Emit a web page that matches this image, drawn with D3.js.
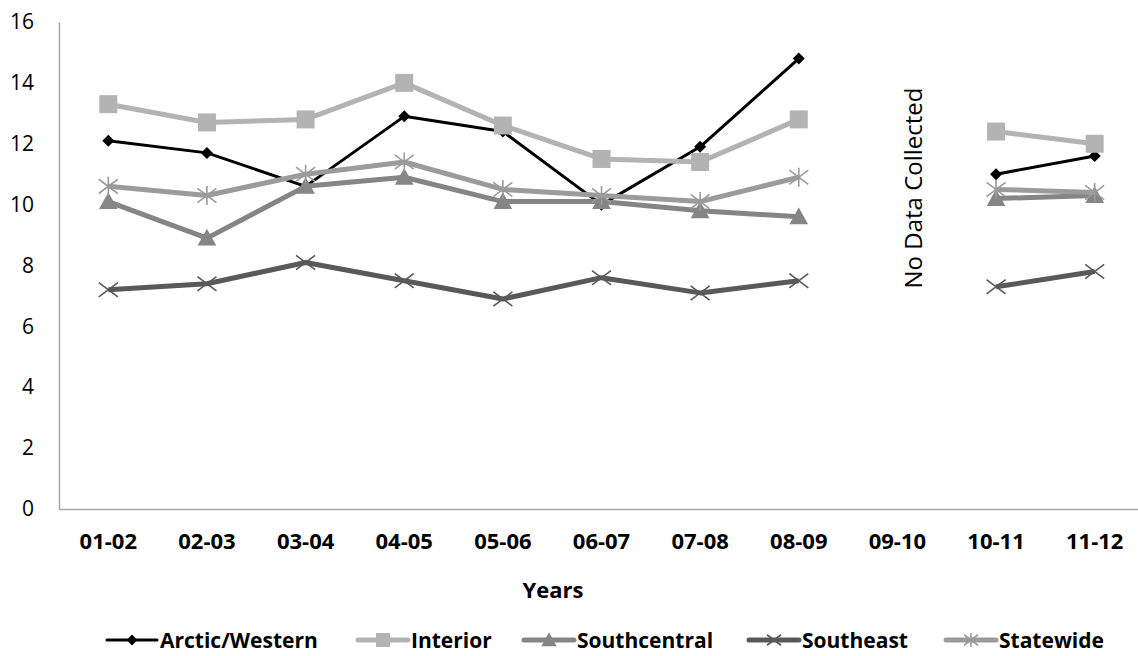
<!DOCTYPE html>
<html><head><meta charset="utf-8">
<script src="https://cdn.jsdelivr.net/npm/d3@7"></script>
<style>html,body{margin:0;padding:0;background:#fff;overflow:hidden}svg{display:block;font-family:"Open Sans",sans-serif}</style>
</head><body>
<svg id="c" width="1138" height="656"></svg>
<script>
const years = ["01-02","02-03","03-04","04-05","05-06","06-07","07-08","08-09","09-10","10-11","11-12"];
const arctic      = [12.1,11.7,10.6,12.9,12.4,10.0,11.9,14.8,null,11.0,11.6];
const interior    = [13.3,12.7,12.8,14.0,12.6,11.5,11.4,12.8,null,12.4,12.0];
const southcentral= [10.1,8.9,10.6,10.9,10.1,10.1,9.8,9.6,null,10.2,10.3];
const southeast   = [7.2,7.4,8.1,7.5,6.9,7.6,7.1,7.5,null,7.3,7.8];
const statewide   = [10.6,10.3,11.0,11.4,10.5,10.3,10.1,10.9,null,10.5,10.4];
const yTicks = [0,2,4,6,8,10,12,14,16];
const seriesNames = ["Arctic/Western","Interior","Southcentral","Southeast","Statewide"];

const series = [
  {name:seriesNames[0], values:arctic, color:"#000000", width:3, marker:"diamond"},
  {name:seriesNames[1], values:interior, color:"#b3b3b3", width:5, marker:"square"},
  {name:seriesNames[2], values:southcentral, color:"#858585", width:5, marker:"triangle"},
  {name:seriesNames[3], values:southeast, color:"#595959", width:5, marker:"x"},
  {name:seriesNames[4], values:statewide, color:"#9b9b9b", width:5, marker:"asterisk"}
];

const svg = d3.select("#c");
const L = 59, R = 1144, T = 22, B = 509;
const x = d3.scaleBand().domain(years).range([L, R]);
const y = d3.scaleLinear().domain([0,16]).range([B, T]);

const yAxis = svg.append("g").attr("transform",`translate(${L},0)`)
  .call(d3.axisLeft(y).tickValues(yTicks).tickSize(0).tickPadding(25));
yAxis.select(".domain").attr("stroke","#a6a6a6").attr("stroke-width",1.5);
yAxis.selectAll("text").attr("font-size",21).attr("fill","#000").attr("font-family","'Open Sans', sans-serif");

const xAxis = svg.append("g").attr("transform",`translate(0,${B})`)
  .call(d3.axisBottom(x).tickSize(0).tickPadding(24));
xAxis.select(".domain").attr("stroke","#a6a6a6").attr("stroke-width",1.5);
xAxis.selectAll("text").attr("font-size",22).attr("font-weight","bold").attr("fill","#000").attr("font-family","'Open Sans', sans-serif");

svg.append("text").attr("x",553).attr("y",598).attr("text-anchor","middle")
  .attr("font-size",22).attr("font-weight","bold").text("Years");

svg.append("text").attr("transform",`translate(${x("09-10")+x.bandwidth()/2+25},188) rotate(-90)`)
  .attr("text-anchor","middle").attr("font-size",24).text("No Data Collected");

function drawMarker(g, type, color, cx, cy, s) {
  if (type==="diamond") {
    const r = s*0.5;
    g.append("path").attr("d",`M${cx},${cy-r}L${cx+r},${cy}L${cx},${cy+r}L${cx-r},${cy}Z`).attr("fill",color);
  } else if (type==="square") {
    const r = s*0.5;
    g.append("rect").attr("x",cx-r).attr("y",cy-r).attr("width",2*r).attr("height",2*r).attr("fill",color);
  } else if (type==="triangle") {
    const r = s*0.55;
    g.append("path").attr("d",`M${cx},${cy-r}L${cx+r},${cy+r*0.8}L${cx-r},${cy+r*0.8}Z`).attr("fill",color);
  } else if (type==="x") {
    const r = s*0.5;
    g.append("path").attr("d",`M${cx-r},${cy-r*0.75}L${cx+r},${cy+r*0.75}M${cx-r},${cy+r*0.75}L${cx+r},${cy-r*0.75}`)
      .attr("stroke",color).attr("stroke-width",1.6).attr("fill","none");
  } else if (type==="asterisk") {
    const r = s*0.5;
    g.append("path").attr("d",`M${cx-r},${cy-r*0.75}L${cx+r},${cy+r*0.75}M${cx-r},${cy+r*0.75}L${cx+r},${cy-r*0.75}M${cx},${cy-r}L${cx},${cy+r}`)
      .attr("stroke",color).attr("stroke-width",1.6).attr("fill","none");
  }
}
const msize = {diamond:12, square:18, triangle:17, x:19, asterisk:19};

const line = d3.line().defined(d=>d.v!=null).x(d=>x(d.k)+x.bandwidth()/2).y(d=>y(d.v));
series.forEach(s=>{
  const g = svg.append("g");
  const pts = years.map((k,i)=>({k, v:s.values[i]}));
  g.append("path").datum(pts).attr("d",line).attr("fill","none")
    .attr("stroke",s.color).attr("stroke-width",s.width).attr("stroke-linejoin","round");
  pts.filter(d=>d.v!=null).forEach(d=>drawMarker(g, s.marker, s.color, x(d.k)+x.bandwidth()/2, y(d.v), msize[s.marker]));
});

// legend
const legendX = [107, 358, 524, 749, 946];
const legY = 640;
series.forEach((s,i)=>{
  const g = svg.append("g");
  const x0 = legendX[i], x1 = x0 + 50;
  g.append("line").attr("x1",x0).attr("x2",x1).attr("y1",legY).attr("y2",legY)
    .attr("stroke",s.color).attr("stroke-width",s.width).attr("stroke-linecap","round");
  drawMarker(g, s.marker, s.color, (x0+x1)/2, legY, s.marker==="diamond"?11:14);
  g.append("text").attr("x",x1+3).attr("y",legY+8).attr("font-size",21).attr("font-weight","bold")
    .attr("textLength", null).text(s.name);
});
</script>
</body></html>
